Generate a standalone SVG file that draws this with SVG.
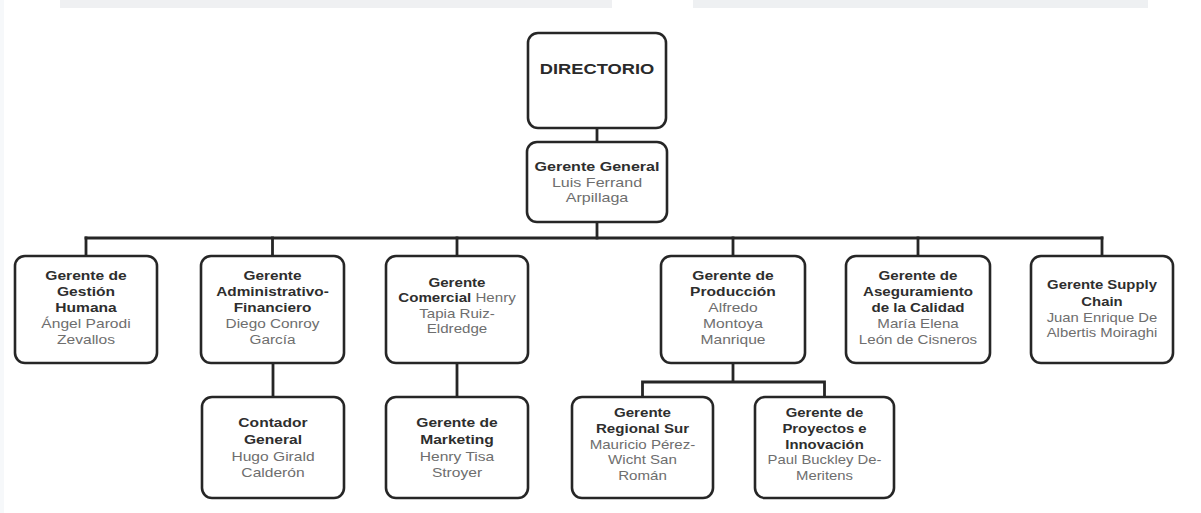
<svg xmlns="http://www.w3.org/2000/svg" width="1201" height="513" viewBox="0 0 1201 513">
  <style>
    .box { fill: #ffffff; stroke: #262626; stroke-width: 2.6; }
    .link { fill: none; stroke: #262626; stroke-width: 2.8; stroke-linecap: square; }
    text { font-family: "Liberation Sans", Arial, sans-serif; font-size: 12px; text-anchor: middle; }
    .t { font-weight: bold; fill: #2e2e2e; }
    .n { font-weight: normal; fill: #6e6e6e; }
    .head { font-size: 15px; font-weight: bold; fill: #2a2a2a; }
  </style>

  <!-- page background and faint top band -->
  <rect x="0" y="0" width="1201" height="513" fill="#ffffff"/>
  <rect x="60" y="0" width="552" height="8" fill="#eff0f2"/>
  <rect x="693" y="0" width="455" height="8" fill="#eef0f2"/>
  <rect x="0" y="0" width="4" height="513" fill="#f6f8fa"/>

  <!-- connectors -->
  <g id="connectors">
    <path class="link" d="M597 128 V142"/>
    <path class="link" d="M597 222 V238"/>
    <path class="link" d="M86 238 H1102"/>
    <path class="link" d="M86 238 V256 M272.5 238 V256 M457 238 V256 M733 238 V256 M918 238 V256 M1102 238 V256"/>
    <path class="link" d="M273 363 V397 M457 363 V397"/>
    <path class="link" d="M733 363 V382 M642.5 382 H824.5 M642.5 382 V397 M824.5 382 V397"/>
  </g>

  <g id="directorio">
    <rect class="box" x="528" y="33" width="138" height="95" rx="10"/>
    <g transform="translate(597 0) scale(1.22 1)">
      <text class="head" x="0" y="74">DIRECTORIO</text>
    </g>
  </g>

  <g id="gerente-general">
    <rect class="box" x="527" y="142" width="140" height="80" rx="10"/>
    <g transform="translate(597 0) scale(1.34 1)">
      <text class="t" x="0" y="171">Gerente General</text>
      <text class="n" x="0" y="187">Luis Ferrand</text>
      <text class="n" x="0" y="202">Arpillaga</text>
    </g>
  </g>

  <g id="gestion-humana">
    <rect class="box" x="15" y="256" width="142" height="107" rx="10"/>
    <g transform="translate(86 0) scale(1.3 1)">
      <text class="t" x="0" y="280">Gerente de</text>
      <text class="t" x="0" y="296">Gestión</text>
      <text class="t" x="0" y="312">Humana</text>
      <text class="n" x="0" y="328">Ángel Parodi</text>
      <text class="n" x="0" y="344">Zevallos</text>
    </g>
  </g>

  <g id="administrativo-financiero">
    <rect class="box" x="201" y="256" width="143" height="107" rx="10"/>
    <g transform="translate(272.5 0) scale(1.28 1)">
      <text class="t" x="0" y="280">Gerente</text>
      <text class="t" x="0" y="296">Administrativo-</text>
      <text class="t" x="0" y="312">Financiero</text>
      <text class="n" x="0" y="328">Diego Conroy</text>
      <text class="n" x="0" y="344">García</text>
    </g>
  </g>

  <g id="comercial">
    <rect class="box" x="386" y="256" width="142" height="107" rx="10"/>
    <g transform="translate(457 0) scale(1.26 1)">
      <text class="t" x="0" y="287">Gerente</text>
      <text x="0" y="302"><tspan class="t">Comercial</tspan><tspan class="n"> Henry</tspan></text>
      <text class="n" x="0" y="318">Tapia Ruiz-</text>
      <text class="n" x="0" y="333">Eldredge</text>
    </g>
  </g>

  <g id="produccion">
    <rect class="box" x="661" y="256" width="144" height="107" rx="10"/>
    <g transform="translate(733 0) scale(1.3 1)">
      <text class="t" x="0" y="280">Gerente de</text>
      <text class="t" x="0" y="296">Producción</text>
      <text class="n" x="0" y="312">Alfredo</text>
      <text class="n" x="0" y="328">Montoya</text>
      <text class="n" x="0" y="344">Manrique</text>
    </g>
  </g>

  <g id="aseguramiento-calidad">
    <rect class="box" x="846" y="256" width="144" height="107" rx="10"/>
    <g transform="translate(918 0) scale(1.26 1)">
      <text class="t" x="0" y="280">Gerente de</text>
      <text class="t" x="0" y="296">Aseguramiento</text>
      <text class="t" x="0" y="312">de la Calidad</text>
      <text class="n" x="0" y="328">María Elena</text>
      <text class="n" x="0" y="344">León de Cisneros</text>
    </g>
  </g>

  <g id="supply-chain">
    <rect class="box" x="1031" y="256" width="142" height="107" rx="10"/>
    <g transform="translate(1102 0) scale(1.24 1)">
      <text class="t" x="0" y="289">Gerente Supply</text>
      <text class="t" x="0" y="306">Chain</text>
      <text class="n" x="0" y="322">Juan Enrique De</text>
      <text class="n" x="0" y="337">Albertis Moiraghi</text>
    </g>
  </g>

  <g id="contador-general">
    <rect class="box" x="202" y="397" width="142" height="101" rx="10"/>
    <g transform="translate(273 0) scale(1.3 1)">
      <text class="t" x="0" y="427">Contador</text>
      <text class="t" x="0" y="444">General</text>
      <text class="n" x="0" y="461">Hugo Girald</text>
      <text class="n" x="0" y="477">Calderón</text>
    </g>
  </g>

  <g id="marketing">
    <rect class="box" x="386" y="397" width="142" height="101" rx="10"/>
    <g transform="translate(457 0) scale(1.3 1)">
      <text class="t" x="0" y="427">Gerente de</text>
      <text class="t" x="0" y="444">Marketing</text>
      <text class="n" x="0" y="461">Henry Tisa</text>
      <text class="n" x="0" y="477">Stroyer</text>
    </g>
  </g>

  <g id="regional-sur">
    <rect class="box" x="572" y="397" width="141" height="101" rx="10"/>
    <g transform="translate(642.5 0) scale(1.26 1)">
      <text class="t" x="0" y="417">Gerente</text>
      <text class="t" x="0" y="433">Regional Sur</text>
      <text class="n" x="0" y="449">Mauricio Pérez-</text>
      <text class="n" x="0" y="464">Wicht San</text>
      <text class="n" x="0" y="480">Román</text>
    </g>
  </g>

  <g id="proyectos-innovacion">
    <rect class="box" x="755" y="397" width="139" height="101" rx="10"/>
    <g transform="translate(824.5 0) scale(1.24 1)">
      <text class="t" x="0" y="417">Gerente de</text>
      <text class="t" x="0" y="433">Proyectos e</text>
      <text class="t" x="0" y="449">Innovación</text>
      <text class="n" x="0" y="464">Paul Buckley De-</text>
      <text class="n" x="0" y="480">Meritens</text>
    </g>
  </g>
</svg>
